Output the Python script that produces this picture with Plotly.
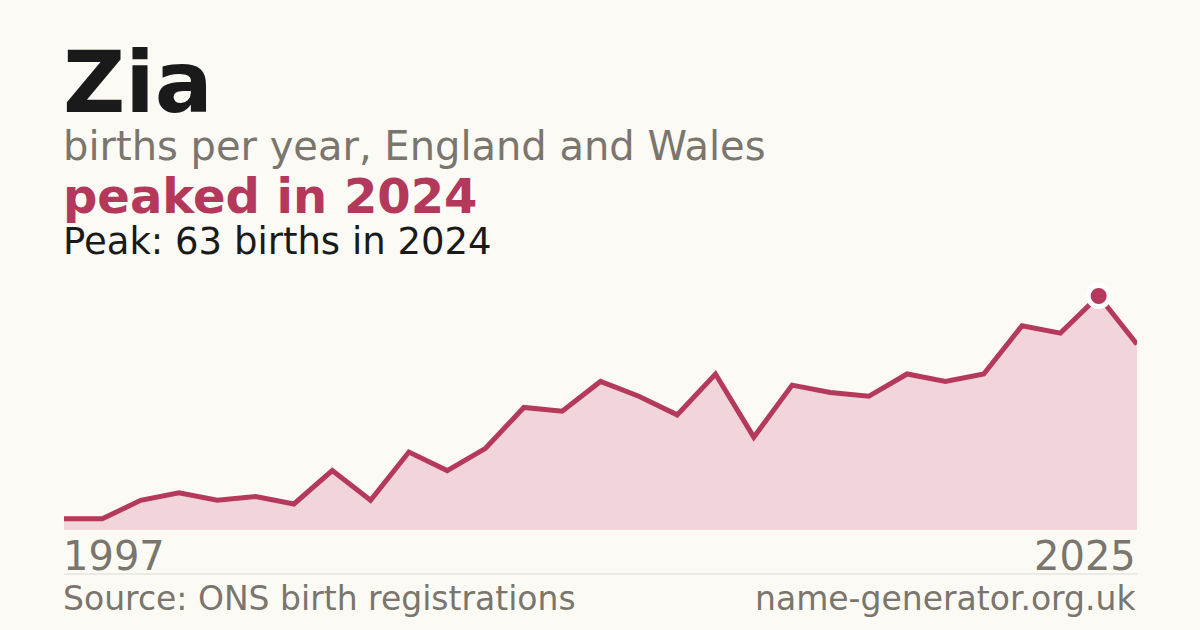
import plotly.graph_objects as go

# Zia - births per year, England and Wales
years = list(range(1997, 2026))
births = [3, 3, 8, 10, 8, 9, 7, 16, 8, 21, 16, 22, 33, 32, 40, 36, 31, 42,
          25, 39, 37, 36, 42, 40, 42, 55, 53, 63, 50]
peak_year = 2024
peak_births = 63
tick_labels = ["1997", "2025"]

BG = "#fbfaf5"
RED = "#b5395a"
GREY = "#7a756d"
FONT = "DejaVu Sans"

# plot area in pixels: x 64..1137, y 270..530
LEFT, RIGHT = 64, 1137
TOP, BOTTOM = 270, 530


def py(px):
    # pixel row -> paper y
    return (BOTTOM - px) / (BOTTOM - TOP)


def px_x(px):
    return (px - LEFT) / (RIGHT - LEFT)


fig = go.Figure()
fig.add_trace(go.Scatter(x=years, y=births, mode="lines",
                         line=dict(color=RED, width=5),
                         fill="tozeroy", fillcolor="#f2d5da",
                         hoverinfo="skip"))
fig.add_trace(go.Scatter(x=[peak_year], y=[peak_births], mode="markers",
                         marker=dict(color="#b3385a", size=21,
                                     line=dict(color="white", width=5)),
                         hoverinfo="skip"))

texts = [
    ("Zia", 86, "#1a1a1a", True, 62, "left", 82),
    ("births per year, England and Wales", 40, GREY, False, 62, "left", 146),
    ("peaked in %d" % peak_year, 48, "#b3385a", True, 62, "left", 196),
    ("Peak: %d births in %d" % (peak_births, peak_year), 37, "#1a1a1a", False, 62, "left", 241),
    (tick_labels[0], 40, GREY, False, 62, "left", 556),
    (tick_labels[1], 40, GREY, False, 1137, "right", 556),
    ("Source: ONS birth registrations", 33, GREY, False, 62, "left", 598),
    ("name-generator.org.uk", 33, GREY, False, 1137, "right", 598),
]
for t, size, col, bold, xpx, anchor, ypx in texts:
    fig.add_annotation(text="<b>%s</b>" % t if bold else t,
                       x=px_x(xpx), y=py(ypx), xref="paper", yref="paper",
                       xanchor=anchor, yanchor="middle", showarrow=False,
                       borderpad=0,
                       font=dict(family=FONT, size=size, color=col))

fig.add_shape(type="line", xref="paper", yref="paper", x0=0, x1=1,
              y0=py(574), y1=py(574), line=dict(color="#dcdad3", width=1))

fig.update_xaxes(range=[1997, 2025], visible=False, fixedrange=True)
fig.update_yaxes(range=[0, 70], visible=False, fixedrange=True)
fig.update_layout(width=1200, height=630, showlegend=False,
                  paper_bgcolor=BG, plot_bgcolor=BG,
                  margin=dict(l=LEFT, r=1200 - RIGHT, t=TOP, b=630 - BOTTOM))

fig.write_html("out.html", config={"displayModeBar": False},
               post_script="document.body.style.margin='0';")
